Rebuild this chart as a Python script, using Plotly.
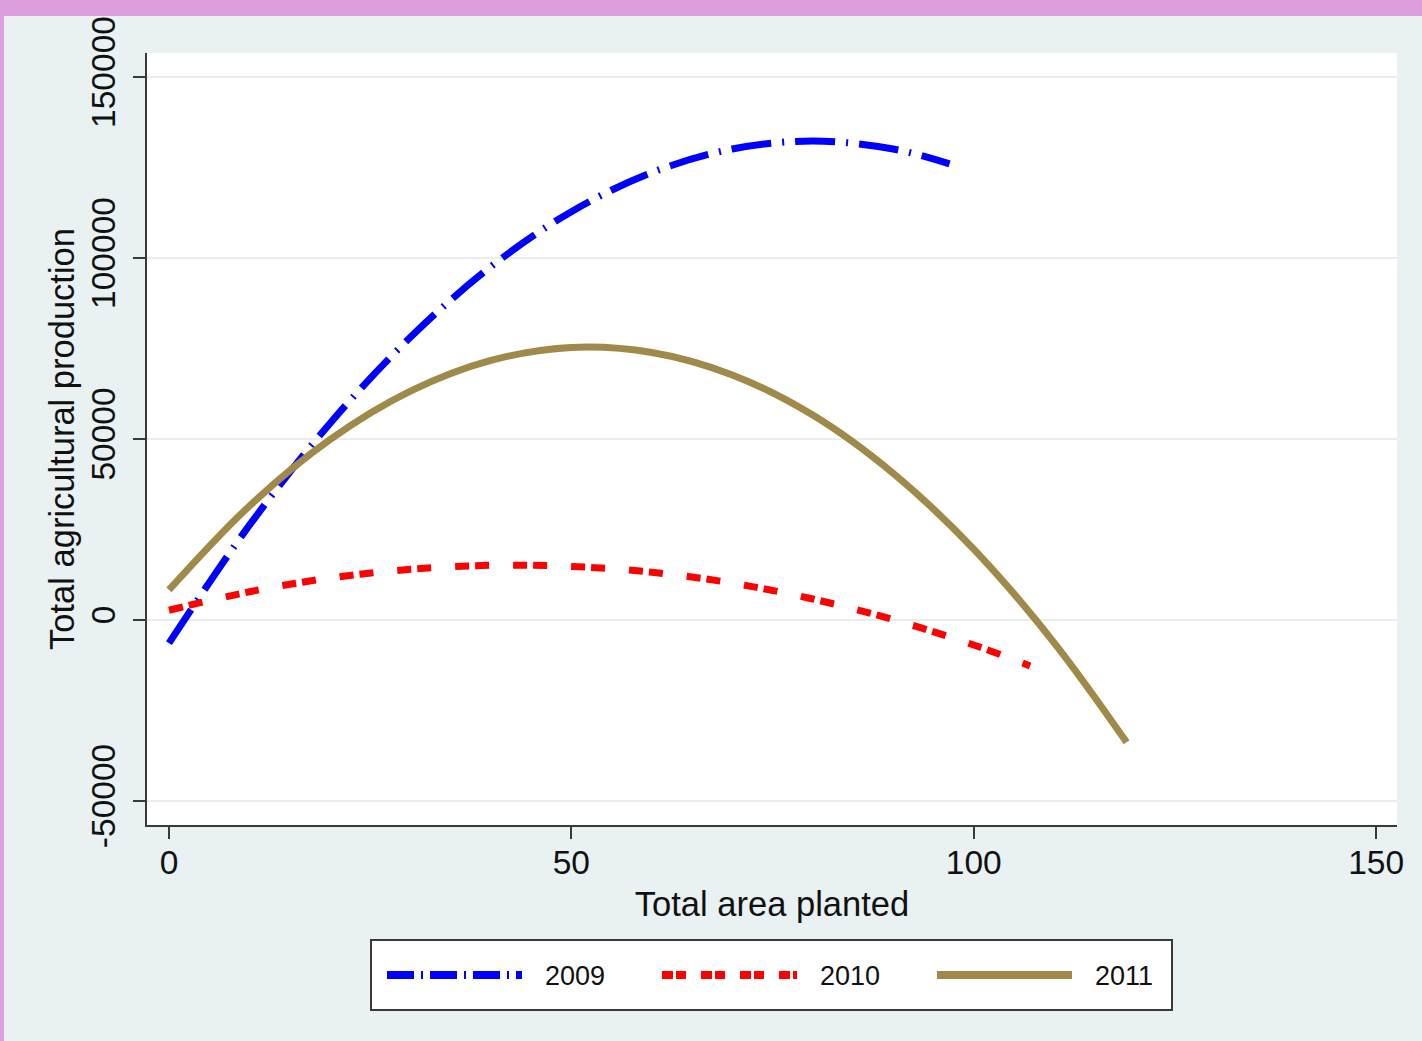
import plotly.graph_objects as go

# ---- data ----
series_names = ["2009", "2010", "2011"]

x_2009 = [0, 10, 20, 30, 40, 50, 60, 70, 80, 90, 97]
y_2009 = [-6400, 26200, 54300, 78100, 97600, 112800, 123600, 130100, 132300, 130100, 126000]

x_2010 = [0, 10, 20, 30, 40, 50, 60, 70, 80, 90, 100, 107]
y_2010 = [2700, 7800, 11600, 14000, 15100, 14800, 13200, 10200, 5800, 100, -6900, -12700]

x_2011 = [0, 10, 20, 30, 40, 50, 60, 70, 80, 90, 100, 110, 119]
y_2011 = [8300, 31500, 49800, 63200, 71700, 75300, 73900, 67700, 56600, 40500, 19600, -6300, -33800]

x_ticks = [0, 50, 100, 150]
y_ticks = [-50000, 0, 50000, 100000, 150000]

# ---- styles ----
W, H = 1422, 1041
ML, MR, MT, MB = 147, 25, 53, 216
PW, PH = W - ML - MR, H - MT - MB
FONT = "Liberation Sans, Arial, Helvetica, sans-serif"
BG = "#e9f1f3"
PINK = "#dc9fdb"
AX = "#3a3a3a"
colors = ["#0000ff", "#ff0000", "#a08a4a"]
dashes = ["40px,11px,2px,11px", "14px,6px,14px,24px", "solid"]
leg_dashes = ["27px,7px,2px,7px", "11px,3px,10px,15px", "solid"]


def px(xp):
    return (xp - ML) / PW


def py(yp):
    return (H - MB - yp) / PH


fig = go.Figure()
for name, xs, ys, c, d in zip(series_names, [x_2009, x_2010, x_2011],
                              [y_2009, y_2010, y_2011], colors, dashes):
    fig.add_trace(go.Scatter(x=xs, y=ys, name=name, mode="lines",
                             line=dict(color=c, width=7, dash=d, shape="spline"),
                             showlegend=False))

shapes = [
    # pink frame (top band and left strip)
    dict(type="rect", xref="paper", yref="paper", x0=-0.3, x1=1.3, y0=py(16), y1=1.2,
         fillcolor=PINK, line=dict(width=0), layer="below"),
    dict(type="rect", xref="paper", yref="paper", x0=-0.3, x1=px(4), y0=-0.5, y1=1.2,
         fillcolor=PINK, line=dict(width=0), layer="below"),
    # legend box
    dict(type="rect", xref="paper", yref="paper", x0=px(371), x1=px(1172), y0=py(1010), y1=py(940),
         fillcolor="white", line=dict(color=AX, width=2)),
]
annotations = []
leg_line_x = [387, 662, 937]
leg_text_x = [543, 818, 1093]
for name, c, d, lx, tx in zip(series_names, colors, leg_dashes, leg_line_x, leg_text_x):
    shapes.append(dict(type="line", xref="paper", yref="paper", x0=px(lx), x1=px(lx + 135),
                       y0=py(975), y1=py(975), line=dict(color=c, width=8, dash=d)))
    annotations.append(dict(xref="paper", yref="paper", x=px(tx), y=py(976), text=name,
                            showarrow=False, xanchor="left", yanchor="middle",
                            font=dict(size=27, color="#111111", family=FONT)))

fig.update_layout(
    width=W, height=H,
    margin=dict(l=ML, r=MR, t=MT, b=MB, pad=0),
    paper_bgcolor=BG, plot_bgcolor="white",
    font=dict(family=FONT, size=33, color="#111111"),
    shapes=shapes, annotations=annotations,
    showlegend=False,
    xaxis=dict(range=[-2.73, 152.6], tickvals=x_ticks, ticktext=[str(v) for v in x_ticks],
               showgrid=False, zeroline=False, showline=True, linecolor=AX, linewidth=2,
               ticks="outside", ticklen=12, tickwidth=2, tickcolor=AX,
               tickfont=dict(size=33.5), ticklabelstandoff=-5,
               title=dict(text="Total area planted", font=dict(size=34.5), standoff=12)),
    yaxis=dict(range=[-56630, 156630], tickvals=y_ticks, ticktext=[str(v) for v in y_ticks],
               tickangle=-90, showgrid=True, gridcolor="#e6eef0", gridwidth=2,
               zeroline=False, showline=True, linecolor=AX, linewidth=2,
               ticks="outside", ticklen=12, tickwidth=2, tickcolor=AX,
               tickfont=dict(size=33.5), ticklabelstandoff=5,
               title=dict(text="Total agricultural production", font=dict(size=34.5), standoff=0)),
)

fig.write_html("out.html",
               config={"displayModeBar": False},
               post_script="document.body.style.margin='0';document.body.style.overflow='hidden';")
